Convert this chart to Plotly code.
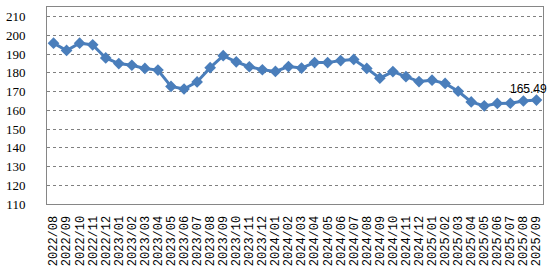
import plotly.graph_objects as go

months = ["2022/08","2022/09","2022/10","2022/11","2022/12",
          "2023/01","2023/02","2023/03","2023/04","2023/05","2023/06","2023/07","2023/08","2023/09","2023/10","2023/11","2023/12",
          "2024/01","2024/02","2024/03","2024/04","2024/05","2024/06","2024/07","2024/08","2024/09","2024/10","2024/11","2024/12",
          "2025/01","2025/02","2025/03","2025/04","2025/05","2025/06","2025/07","2025/08","2025/09"]
values = [195.9, 192.0, 195.9, 195.0, 188.0,
          185.0, 184.1, 182.4, 181.5, 172.8, 171.4, 175.2, 182.8, 189.2, 185.9, 183.3, 181.7,
          180.8, 183.4, 182.6, 185.5, 185.5, 186.6, 187.2, 182.4, 177.2, 180.7, 178.0, 175.4,
          176.1, 174.4, 170.2, 164.5, 162.4, 163.7, 163.8, 165.0, 165.49]
y_ticks = [110, 120, 130, 140, 150, 160, 170, 180, 190, 200, 210]
last_label = "165.49"

fig = go.Figure()
fig.add_trace(go.Scatter(
    x=list(range(len(months))), y=values, mode="lines+markers",
    line=dict(color="#4A7EBB", width=3),
    marker=dict(symbol="diamond", size=9, color="#4A7EBB"),
    hoverinfo="skip"))

fig.add_annotation(x=len(months) - 1, y=values[-1], text=last_label, showarrow=False,
                   xanchor="center", yanchor="bottom", xshift=-8, yshift=2,
                   font=dict(family="Liberation Sans", size=12, color="#000"))

fig.update_layout(
    width=551, height=272, margin=dict(l=43, r=8, t=6, b=65),
    paper_bgcolor="white", plot_bgcolor="white", showlegend=False,
    font=dict(family="Liberation Serif", size=13, color="#000"))

fig.update_xaxes(
    range=[-0.5, len(months) - 0.5], tickmode="array",
    tickvals=list(range(len(months))), ticktext=months, tickangle=-90,
    tickfont=dict(family="Liberation Mono", size=12, color="#000"),
    ticklabelstandoff=6,
    showgrid=False, showline=True, mirror=True, linecolor="#868686", linewidth=1,
    ticks="", zeroline=False)
fig.update_yaxes(
    range=[110, 215.2], tickmode="array", tickvals=y_ticks,
    ticktext=[str(v) for v in y_ticks], ticklabelstandoff=18,
    tickfont=dict(family="Liberation Serif", size=13, color="#000"),
    showgrid=True, gridcolor="#808080", griddash="dot", gridwidth=1,
    showline=True, mirror=True, linecolor="#868686", linewidth=1,
    ticks="", zeroline=False)

fig.write_html("out.html")
